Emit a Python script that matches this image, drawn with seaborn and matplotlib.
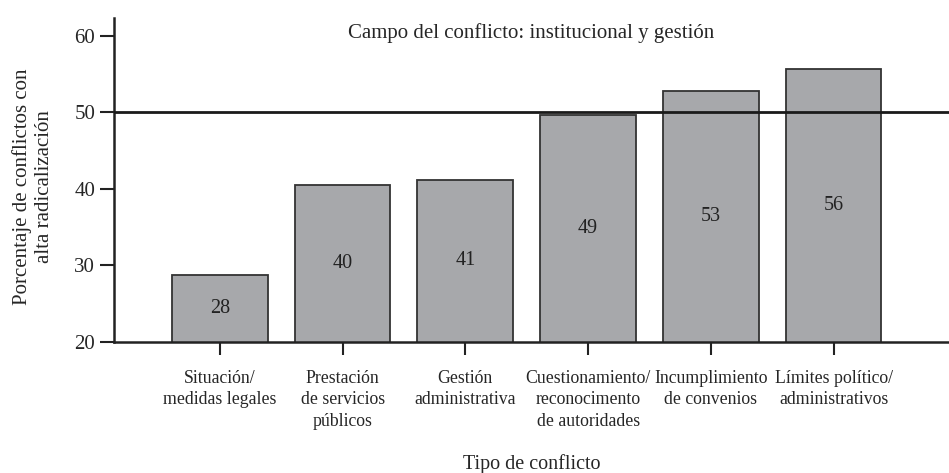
import matplotlib
matplotlib.use("Agg")
import matplotlib.pyplot as plt
import seaborn as sns
import pandas as pd

categories = [
    "Situación/\nmedidas legales",
    "Prestación\nde servicios\npúblicos",
    "Gestión\nadministrativa",
    "Cuestionamiento/\nreconocimento\nde autoridades",
    "Incumplimiento\nde convenios",
    "Límites político/\nadministrativos",
]
values = [28.7, 40.5, 41.2, 49.6, 52.8, 55.7]
bar_labels = ["28", "40", "41", "49", "53", "56"]
y_ticks = [20, 30, 40, 50, 60]
threshold = 50

sns.set_style("ticks")
plt.rcParams["font.family"] = ["Liberation Serif", "DejaVu Serif"]

df = pd.DataFrame({"tipo": categories, "pct": values})

fig = plt.figure(figsize=(9.49, 4.73), dpi=100)
ax = fig.add_axes([0.120, 0.277, 0.880, 0.685])

sns.barplot(data=df, x="tipo", y="pct", color="#a7a8ab", saturation=1,
            width=0.78, edgecolor="#333333", linewidth=1.3, ax=ax)

ax.axhline(threshold, color="#1a1a1a", linewidth=2, zorder=3)

for i, (v, lab) in enumerate(zip(values, bar_labels)):
    ax.text(i, (20 + v) / 2, lab, ha="center", va="center", fontsize=14.5,
            color="#222222")

ax.set_ylim(20, 62.3)
ax.set_xlim(-0.863, 5.94)
ax.set_yticks(y_ticks)
ax.tick_params(axis="y", labelsize=15, length=10, width=1.5, color="#222222")
ax.tick_params(axis="x", labelsize=12.8, length=9, width=1.5, color="#222222", pad=11)
for t in ax.get_xticklabels():
    t.set_linespacing(1.35)

ax.text(0.5, 0.985, "Campo del conflicto: institucional y gestión",
        transform=ax.transAxes, ha="center", va="top", fontsize=15)

ax.set_xlabel("Tipo de conflicto", fontsize=14.5)
ax.xaxis.set_label_coords(0.5, -0.345)
ax.set_ylabel("Porcentaje de conflictos con\nalta radicalización", fontsize=15,
              linespacing=1.2)
ax.yaxis.set_label_coords(-0.072, 0.48)

for side in ["top", "right"]:
    ax.spines[side].set_visible(False)
for side in ["left", "bottom"]:
    ax.spines[side].set_linewidth(1.8)
    ax.spines[side].set_color("#222222")

fig.savefig("out.png", dpi=100)
plt.close(fig)
